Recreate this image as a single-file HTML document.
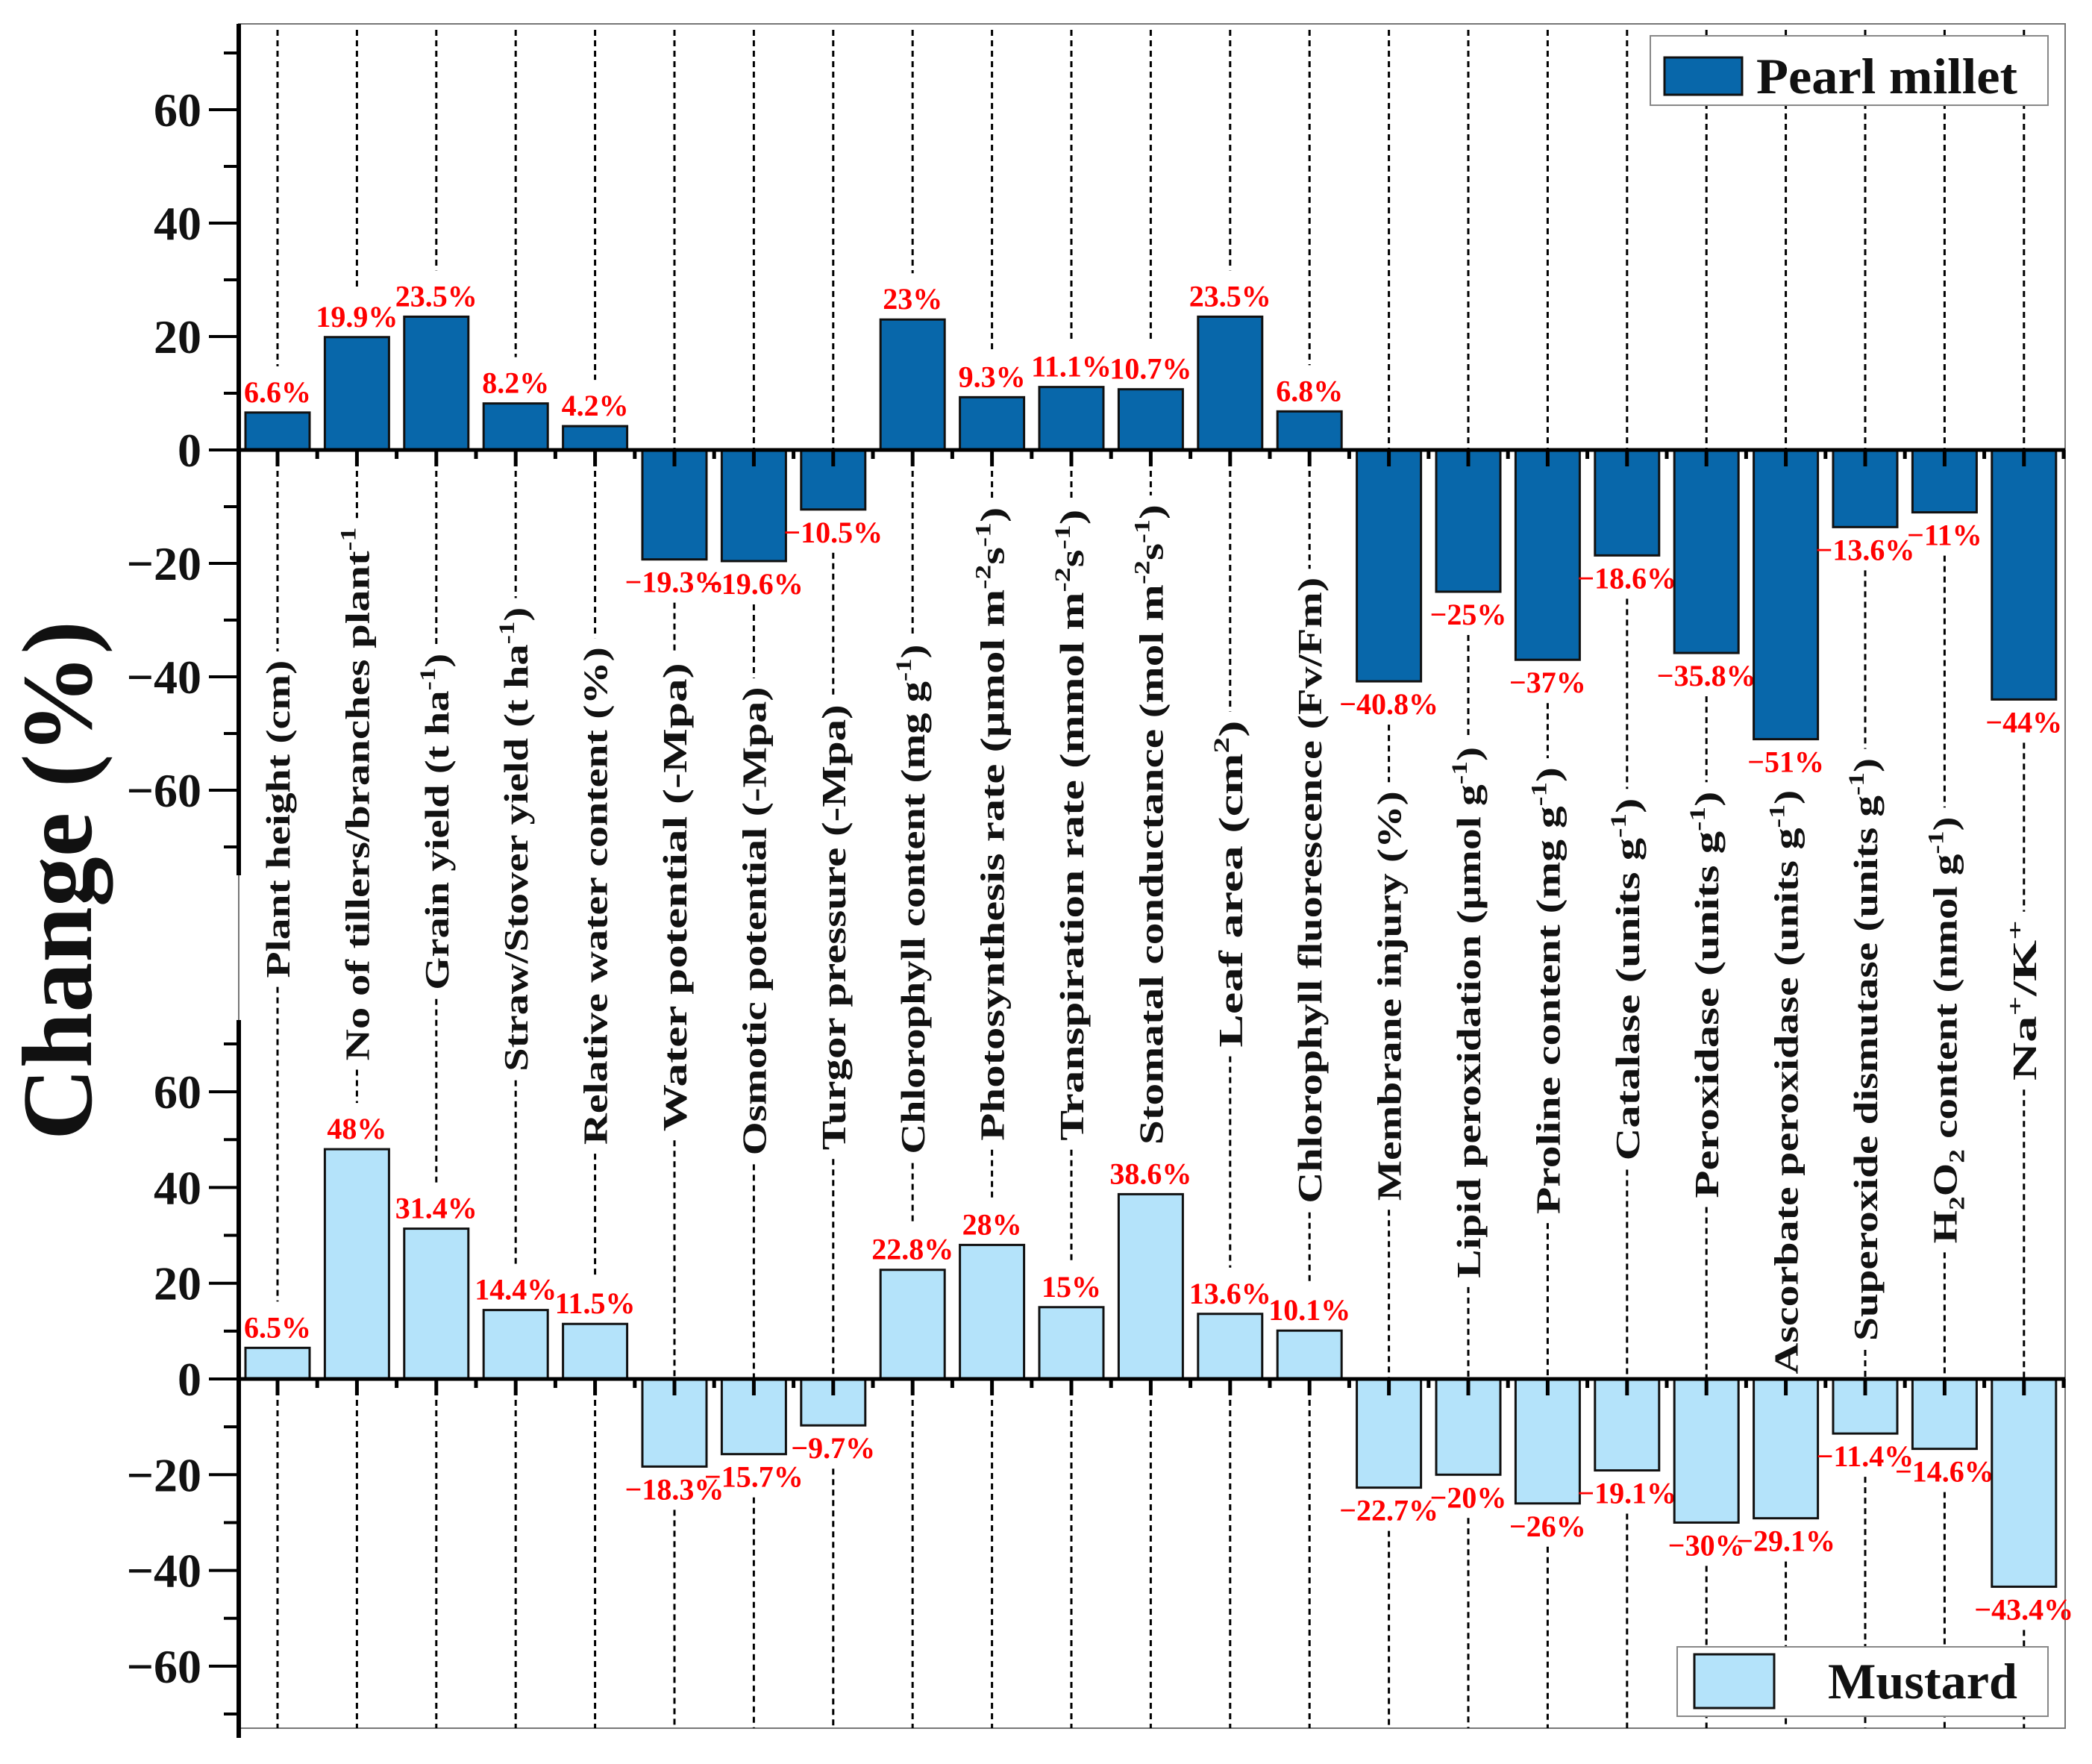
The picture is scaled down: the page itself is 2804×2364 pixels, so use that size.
<!DOCTYPE html>
<html><head><meta charset="utf-8"><style>
body{margin:0;background:#fff}
svg{display:block}
text{font-family:"Liberation Serif","Times New Roman",serif;font-weight:bold}
</style></head><body>
<svg id="chart" width="2804" height="2364" viewBox="0 0 2804 2364" xmlns="http://www.w3.org/2000/svg">
<rect x="0" y="0" width="2804" height="2364" fill="#fff"/>
<g id="g"></g>
</svg>
<script>
const categories=["Plant height (cm)","No of tillers/branches plant|-1|","Grain yield (t ha|-1|)","Straw/Stover yield (t ha|-1|)","Relative water content (%)","Water potential (-Mpa)","Osmotic potential (-Mpa)","Turgor pressure (-Mpa)","Chlorophyll content (mg g|-1|)","Photosynthesis rate  (μmol m|-2|s|-1|)","Transpiration rate  (mmol m|-2|s|-1|)","Stomatal conductance  (mol m|-2|s|-1|)","Leaf area (cm|2|)","Chlorophyll fluorescence (Fv/Fm)","Membrane injury (%)","Lipid peroxidation (μmol g|-1|)","Proline content (mg g|-1|)","Catalase  (units g|-1|)","Peroxidase  (units g|-1|)","Ascorbate peroxidase (units g|-1|)","Superoxide dismutase (units g|-1|)","H_2_O_2_ content (nmol g|-1|)","Na|+|/K|+|"];
const pearlMillet=[6.6,19.9,23.5,8.2,4.2,-19.3,-19.6,-10.5,23,9.3,11.1,10.7,23.5,6.8,-40.8,-25,-37,-18.6,-35.8,-51,-13.6,-11,-44];
const pearlLabels=["6.6%","19.9%","23.5%","8.2%","4.2%","−19.3%","−19.6%","−10.5%","23%","9.3%","11.1%","10.7%","23.5%","6.8%","−40.8%","−25%","−37%","−18.6%","−35.8%","−51%","−13.6%","−11%","−44%"];
const mustard=[6.5,48,31.4,14.4,11.5,-18.3,-15.7,-9.7,22.8,28,15,38.6,13.6,10.1,-22.7,-20,-26,-19.1,-30,-29.1,-11.4,-14.6,-43.4];
const mustardLabels=["6.5%","48%","31.4%","14.4%","11.5%","−18.3%","−15.7%","−9.7%","22.8%","28%","15%","38.6%","13.6%","10.1%","−22.7%","−20%","−26%","−19.1%","−30%","−29.1%","−11.4%","−14.6%","−43.4%"];
const yTicks=[-60,-40,-20,0,20,40,60];
const yTickLabels=["−60","−40","−20","0","20","40","60"];
const labelTops=[495,395,490,455,485,497,515,528,483,380,382,378,540,433,593,560,575,598,593,592,568,612,690];
const labelBottoms=[733,795,742,803,858,848,866,862,865,855,855,858,785,902,900,958,910,870,898,1030,1005,932,810];

const NS="http://www.w3.org/2000/svg";
const g=document.getElementById('g');
function el(t,a,p){const e=document.createElementNS(NS,t);for(const k in a)e.setAttribute(k,a[k]);(p||g).appendChild(e);return e;}
const X0=320,X1=2768,C0=372,STEP=106.4,BW=86;
const xPos=i=>C0+i*STEP;
const topP={zero:603,ppu:7.6,top:32,bot:1173};
const botP={zero:1848,ppu:6.415,top:1367,bot:2329};
const yT=v=>topP.zero-v*topP.ppu;
const yB=v=>botP.zero-v*botP.ppu;
const S=1.788;

let f=el('rect',{x:X0,y:32,width:X1-X0,height:2316-32,fill:'none',stroke:'#777','stroke-width':2});



function panel(P,yf,vals,labs,color,name){
  const grp=el('g',{});
  
  
  vals.forEach((v,i)=>{
    const x=xPos(i);
    const lt=labelTops[i]*S-12, lb=labelBottoms[i]*S+12;
    let segs=[];
    if(name==='pearl-millet'){
      segs.push([P.top+8, v>0? yf(v)-62 : P.zero]);
      segs.push([v<0? yf(v)+58 : P.zero, lt]);
    }else{
      segs.push([lb, v>0? yf(v)-62 : P.zero]);
      segs.push([v<0? yf(v)+58 : P.zero, 2316]);
    }
    segs.forEach(s=>{if(s[1]-s[0]>10){const l=el('line',{x1:x,x2:x,y1:s[0],y2:s[1],stroke:'#000','stroke-width':3,'stroke-dasharray':'8,6'},grp);
      
      }});
  });
  vals.forEach((v,i)=>{
    const x=xPos(i),y0=P.zero,y1=yf(v);
    const r=el('rect',{x:x-BW/2,y:Math.min(y0,y1),width:BW,height:Math.abs(y1-y0),fill:color,stroke:'#111','stroke-width':3},grp);
    
    
    const t=el('text',{x:x,y:v>=0? y1-14 : y1+44,'text-anchor':'middle','font-size':40,fill:'#f00'},grp);
    t.textContent=labs[i];
    
    
  });
  const ax=el('line',{x1:X0,x2:X0,y1:P.top,y2:P.bot,stroke:'#000','stroke-width':6},grp);
  
  
  const xa=el('line',{x1:X0,x2:X1,y1:P.zero,y2:P.zero,stroke:'#000','stroke-width':5},grp);
  
  
  vals.forEach((v,i)=>{
    const tk=el('line',{x1:xPos(i),x2:xPos(i),y1:P.zero,y2:P.zero+22,stroke:'#000','stroke-width':5},grp);
    
    
    const mt=el('line',{x1:xPos(i)+STEP/2,x2:xPos(i)+STEP/2,y1:P.zero,y2:P.zero+12,stroke:'#000','stroke-width':5},grp);
    
    
  });
  for(let v=-70;v<=70;v+=10){
    const major=yTicks.indexOf(v)>=0;
    const tk=el('line',{x1:X0-(major?40:20),x2:X0,y1:yf(v),y2:yf(v),stroke:'#000','stroke-width':4},grp);
    
    
  }
  yTicks.forEach((v,i)=>{
    const t=el('text',{x:270,y:yf(v)+22,'text-anchor':'end','font-size':64,fill:'#111'},grp);
    t.textContent=yTickLabels[i];
    
    
  });
}
panel(topP,yT,pearlMillet,pearlLabels,'#0867aa','pearl-millet');
panel(botP,yB,mustard,mustardLabels,'#b4e3fa','mustard');

categories.forEach((c,i)=>{
  const x=xPos(i)+16, yb=labelBottoms[i]*S, yt=labelTops[i]*S;
  const t=el('text',{transform:`translate(${x},${yb}) rotate(-90)`,'font-size':46,fill:'#111',textLength:(yb-yt).toFixed(0),lengthAdjust:'spacingAndGlyphs'});
  
  
  const parts=c.split(/(\|[^|]*\||_[^_]*_)/).filter(s=>s.length);
  let pending=0;
  parts.forEach(p=>{
    const ts=document.createElementNS(NS,'tspan');
    let dy=pending;
    if(p[0]==='|'){ts.textContent=p.slice(1,-1);ts.setAttribute('font-size','30');dy+=-18;pending=18;}
    else if(p[0]==='_'){ts.textContent=p.slice(1,-1);ts.setAttribute('font-size','30');dy+=10;pending=-10;}
    else{ts.textContent=p;pending=0;}
    if(dy)ts.setAttribute('dy',dy);
    t.appendChild(ts);
  });
});

const yt=el('text',{transform:'translate(122,1180) rotate(-90)','text-anchor':'middle','font-size':134,fill:'#111'});
yt.textContent='Change (%)';



function legend(bx,by,bw,bh,sx,sy,sw,sh,color,label,tx,tw,name){
  const lg=el('g',{});
  
  
  el('rect',{x:bx,y:by,width:bw,height:bh,fill:'#fff',stroke:'#888','stroke-width':2},lg);
  el('rect',{x:sx,y:sy,width:sw,height:sh,fill:color,stroke:'#111','stroke-width':3},lg);
  const t=el('text',{x:tx,y:sy+sh/2+23,'font-size':68,fill:'#111',textLength:tw,lengthAdjust:'spacingAndGlyphs'},lg);
  t.textContent=label;
}
legend(2212,48,533,93,2231,77,104,50,'#0867aa','Pearl millet',2354,350,'legend-pearl-millet');
legend(2248,2207,497,93,2271,2217,107,72,'#b4e3fa','Mustard',2450,254,'legend-mustard');
</script>
</body></html>
